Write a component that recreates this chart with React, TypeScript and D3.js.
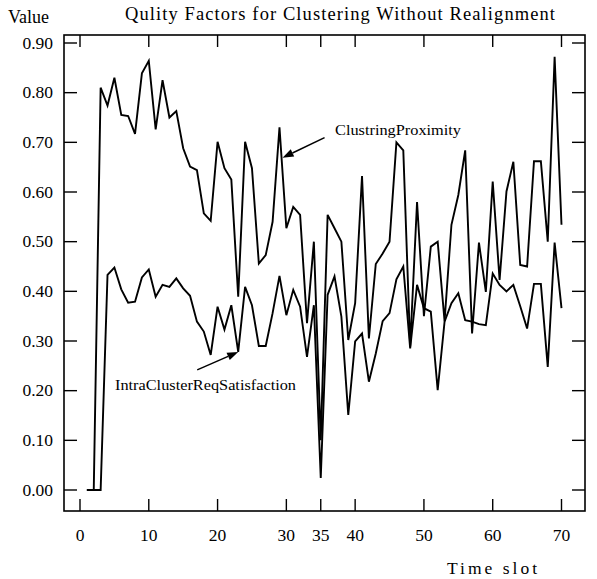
import React from "react"
import * as d3 from "d3"

// Data
const timeSlots = d3.range(1, 71)
const clustringProximity = [
  0, 0, 0.81, 0.774, 0.83, 0.755, 0.753, 0.717, 0.839, 0.864,
  0.726, 0.825, 0.75, 0.763, 0.688, 0.651, 0.644, 0.557, 0.542, 0.701,
  0.648, 0.625, 0.389, 0.701, 0.648, 0.456, 0.473, 0.54, 0.73, 0.527,
  0.57, 0.554, 0.336, 0.5, 0.1, 0.554, 0.527, 0.5, 0.302, 0.376,
  0.632, 0.305, 0.455, 0.476, 0.5, 0.7, 0.684, 0.289, 0.58, 0.35,
  0.49, 0.5, 0.34, 0.534, 0.594, 0.684, 0.315, 0.498, 0.399, 0.621,
  0.423, 0.601, 0.661, 0.453, 0.45, 0.662, 0.662, 0.5, 0.872, 0.534
]
const intraClusterReqSatisfaction = [
  0, 0, 0, 0.433, 0.448, 0.404, 0.377, 0.379, 0.428, 0.444,
  0.389, 0.413, 0.409, 0.426, 0.406, 0.391, 0.339, 0.319, 0.272, 0.369,
  0.323, 0.372, 0.278, 0.409, 0.372, 0.29, 0.29, 0.356, 0.431, 0.352,
  0.403, 0.369, 0.268, 0.372, 0.024, 0.393, 0.43, 0.349, 0.151, 0.299,
  0.315, 0.218, 0.275, 0.34, 0.356, 0.424, 0.45, 0.285, 0.413, 0.366,
  0.359, 0.201, 0.339, 0.376, 0.396, 0.342, 0.339, 0.334, 0.332, 0.436,
  0.413, 0.4, 0.413, 0.37, 0.325, 0.415, 0.415, 0.248, 0.498, 0.366
]
const xTicks = [0, 10, 20, 30, 35, 40, 50, 60, 70]
const yTicks = [0, 0.1, 0.2, 0.3, 0.4, 0.5, 0.6, 0.7, 0.8, 0.9]

const FONT = "Liberation Serif"

function Arrow({ x1, y1, x2, y2 }: { x1: number; y1: number; x2: number; y2: number }) {
  // tail (x1,y1) -> head (x2,y2), filled head
  const a = Math.atan2(y2 - y1, x2 - x1)
  const len = 11
  const wid = 4
  const bx = x2 - len * Math.cos(a)
  const by = y2 - len * Math.sin(a)
  const px = -Math.sin(a) * wid
  const py = Math.cos(a) * wid
  return (
    <g>
      <line x1={x1} y1={y1} x2={bx} y2={by} stroke="#000" strokeWidth={1.5} />
      <polygon points={`${x2},${y2} ${bx + px},${by + py} ${bx - px},${by - py}`} fill="#000" />
    </g>
  )
}

export default function App() {
  // Dimensions
  const W = 597
  const H = 579
  const frame = { left: 64, right: 585, top: 35, bottom: 511 }

  // Scales
  const x = d3.scaleLinear().domain([0, 70]).range([80, 561.5])
  const y = d3.scaleLinear().domain([0, 0.9]).range([490, 43])

  const line = d3
    .line<number>()
    .x((_, i) => x(timeSlots[i]))
    .y((d) => y(d))

  // annotation anchors taken from the data
  const upT = 29.3
  const upV = clustringProximity[28] + 0.3 * (clustringProximity[29] - clustringProximity[28])
  const upHead = [x(upT), y(upV)]
  const loHead = [x(23), y(intraClusterReqSatisfaction[22])]

  return (
    <svg
      width={W}
      height={H}
      style={{ position: "absolute", left: 0, top: 0, background: "#fff" }}
      fontFamily={FONT}
    >
      <rect x={0} y={0} width={W} height={H} fill="#fff" />

      {/* title */}
      <text x={8} y={23} fontSize={18}>Value</text>
      <text x={125} y={20} fontSize={18.5} textLength={430} lengthAdjust="spacing">
        Qulity Factors for Clustering Without Realignment
      </text>

      {/* frame */}
      <rect
        x={frame.left}
        y={frame.top}
        width={frame.right - frame.left}
        height={frame.bottom - frame.top}
        fill="none"
        stroke="#000"
        strokeWidth={1.6}
      />

      {/* x ticks */}
      {xTicks.map((t) => (
        <g key={`xt-${t}`}>
          <line x1={x(t)} x2={x(t)} y1={frame.bottom} y2={frame.bottom - 12} stroke="#000" strokeWidth={1.4} />
          <line x1={x(t)} x2={x(t)} y1={frame.top} y2={frame.top + 12} stroke="#000" strokeWidth={1.4} />
          <text x={x(t)} y={541} fontSize={17.5} textAnchor="middle">{t}</text>
        </g>
      ))}

      {/* y ticks */}
      {yTicks.map((v) => (
        <g key={`yt-${v}`}>
          <line x1={frame.left} x2={frame.left + 13} y1={y(v)} y2={y(v)} stroke="#000" strokeWidth={1.4} />
          <line x1={frame.right} x2={frame.right - 13} y1={y(v)} y2={y(v)} stroke="#000" strokeWidth={1.4} />
          <text x={53} y={y(v) + 5.5} fontSize={17.5} textAnchor="end">{d3.format(".2f")(v)}</text>
        </g>
      ))}

      <text x={447} y={574} fontSize={17.5} textLength={90} lengthAdjust="spacing">Time slot</text>

      {/* series */}
      <path d={line(clustringProximity) || ""} fill="none" stroke="#000" strokeWidth={1.9} strokeLinejoin="miter" />
      <path d={line(intraClusterReqSatisfaction) || ""} fill="none" stroke="#000" strokeWidth={1.9} strokeLinejoin="miter" />

      {/* annotations */}
      <Arrow x1={upHead[0] + 43} y1={upHead[1] - 20} x2={upHead[0] + 1} y2={upHead[1]} />
      <text x={335} y={135} fontSize={15} textLength={126} lengthAdjust="spacingAndGlyphs">ClustringProximity</text>
      <Arrow x1={loHead[0] - 41} y1={loHead[1] + 18} x2={loHead[0]} y2={loHead[1]} />
      <text x={115} y={390} fontSize={15} textLength={181} lengthAdjust="spacingAndGlyphs">IntraClusterReqSatisfaction</text>
    </svg>
  )
}
